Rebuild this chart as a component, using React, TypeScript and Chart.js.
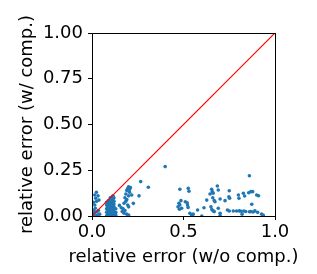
import React, { useEffect, useRef } from "react";
import { Chart, registerables } from "chart.js";

Chart.register(...registerables);

const xTitle = "relative error (w/o comp.)";
const yTitle = "relative error (w/ comp.)";
const xTickValues = [0, 0.5, 1.0];
const yTickValues = [0, 0.25, 0.5, 0.75, 1.0];
const diagX = [0, 1];
const diagY = [0, 1];

// scatter points: relative error without compensation (x) vs with compensation (y)
const errNoComp = [
  0.005, 0.01, 0.015, 0.005, 0.024, 0.015, 0.033, 0.02, 0.038, 0.015, 0.018, 0.027, 0.042, 0.03, 0.02, 0.01, 0.035, 0.008, 0.025,
  0.08, 0.08, 0.08, 0.08, 0.08, 0.09, 0.09, 0.09, 0.09, 0.09, 0.09,
  0.1, 0.1, 0.1, 0.1, 0.1, 0.1, 0.1, 0.1,
  0.11, 0.11, 0.11, 0.11, 0.11, 0.11, 0.11, 0.11,
  0.12, 0.12, 0.12, 0.12, 0.12, 0.12, 0.12,
  0.13, 0.13, 0.13, 0.085, 0.105, 0.115, 0.125,
  0.085, 0.085, 0.085, 0.085, 0.095, 0.095, 0.095, 0.095, 0.095,
  0.105, 0.105, 0.105, 0.105, 0.105, 0.105, 0.105,
  0.115, 0.115, 0.115, 0.115, 0.115, 0.115, 0.115,
  0.15, 0.17, 0.175, 0.18, 0.185, 0.19, 0.2, 0.195, 0.205, 0.2, 0.19, 0.185, 0.195, 0.2, 0.18, 0.175, 0.19, 0.2, 0.21, 0.205, 0.165, 0.16,
  0.217, 0.226, 0.257, 0.266, 0.308, 0.4,
  0.48, 0.486, 0.475, 0.48, 0.47, 0.49, 0.478, 0.526, 0.53, 0.51, 0.52, 0.522, 0.525, 0.535, 0.545, 0.553, 0.577, 0.612, 0.627,
  0.645, 0.654, 0.657, 0.662, 0.66, 0.668, 0.672, 0.65, 0.655, 0.662, 0.668, 0.685, 0.69, 0.7, 0.69, 0.7, 0.727, 0.74,
  0.75, 0.748, 0.752, 0.75, 0.772, 0.79, 0.8, 0.803, 0.805, 0.815, 0.82, 0.827, 0.834, 0.83, 0.84, 0.856, 0.868, 0.873,
  0.878, 0.86, 0.868, 0.88, 0.86, 0.9, 0.91, 0.89, 0.905, 0.927, 0.936, 0.6, 0.7,
];
const errWithComp = [
  0.005, 0.01, 0.02, 0.015, 0.13, 0.115, 0.11, 0.097, 0.087, 0.06, 0.042, 0.023, 0.01, 0.005, 0.0, 0.03, 0.03, 0.075, 0.08,
  0.0, 0.02, 0.04, 0.06, 0.075, 0.0, 0.015, 0.03, 0.05, 0.07, 0.085,
  0.0, 0.01, 0.025, 0.04, 0.055, 0.07, 0.09, 0.1,
  0.0, 0.015, 0.03, 0.045, 0.06, 0.08, 0.095, 0.105,
  0.0, 0.02, 0.035, 0.05, 0.065, 0.08, 0.1,
  0.005, 0.02, 0.04, 0.045, 0.035, 0.07, 0.015,
  0.01, 0.03, 0.05, 0.07, 0.005, 0.02, 0.04, 0.06, 0.08,
  0.005, 0.02, 0.035, 0.05, 0.065, 0.085, 0.1,
  0.01, 0.025, 0.04, 0.055, 0.07, 0.09, 0.11,
  0.058, 0.04, 0.07, 0.1, 0.12, 0.14, 0.16, 0.15, 0.13, 0.11, 0.09, 0.08, 0.06, 0.05, 0.03, 0.015, 0.01, 0.005, 0.155, 0.145, 0.025, 0.045,
  0.115, 0.069, 0.11, 0.188, 0.157, 0.27,
  0.146, 0.084, 0.07, 0.06, 0.05, 0.042, 0.037, 0.151, 0.135, 0.078, 0.072, 0.06, 0.047, 0.015, 0.005, 0.01, 0.033, 0.045, 0.087,
  0.12, 0.146, 0.133, 0.125, 0.1, 0.085, 0.078, 0.05, 0.035, 0.028, 0.024, 0.164, 0.142, 0.093, 0.042, 0.015, 0.084, 0.033,
  0.138, 0.105, 0.097, 0.027, 0.027, 0.027, 0.115, 0.097, 0.028, 0.026, 0.01, 0.124, 0.109, 0.027, 0.025, 0.127, 0.133, 0.064,
  0.133, 0.023, 0.024, 0.022, 0.22, 0.115, 0.111, 0.028, 0.02, 0.01, 0.004, 0.0, 0.003,
];

const FONT = "'DejaVu Sans', sans-serif";
const RED = "rgb(255, 0, 0)";

const framePlugin = {
  id: "frame",
  afterDraw(chart: any) {
    const { ctx, chartArea } = chart;
    ctx.save();
    ctx.strokeStyle = "#000";
    ctx.lineWidth = 1;
    ctx.strokeRect(
      Math.round(chartArea.left) + 0.5,
      Math.round(chartArea.top) + 0.5,
      Math.round(chartArea.right - chartArea.left),
      Math.round(chartArea.bottom - chartArea.top)
    );
    ctx.fillStyle = "#000";
    ctx.font = "18px " + FONT;
    ctx.textAlign = "center";
    ctx.textBaseline = "middle";
    const cx = (chartArea.left + chartArea.right) / 2;
    const cy = (chartArea.top + chartArea.bottom) / 2;
    ctx.fillText(xTitle, cx, chartArea.bottom + 41);
    ctx.translate(chartArea.left - 65, cy);
    ctx.rotate(-Math.PI / 2);
    ctx.fillText(yTitle, 0, 0);
    ctx.restore();
  },
};

export default function App() {
  const ref = useRef<HTMLCanvasElement>(null);
  useEffect(() => {
    if (!ref.current) return;
    const pts = errNoComp.map((x, i) => ({ x, y: errWithComp[i] }));
    const diag = diagX.map((x, i) => ({ x, y: diagY[i] }));
    const chart = new Chart(ref.current, {
      type: "scatter",
      data: {
        datasets: [
          {
            data: pts,
            backgroundColor: "#1f77b4",
            borderColor: "#1f77b4",
            borderWidth: 0,
            pointRadius: 1.8,
            clip: 0,
            order: 2,
          } as any,
          {
            type: "line",
            data: diag,
            showLine: true,
            borderColor: RED,
            backgroundColor: RED,
            borderWidth: 1.2,
            pointRadius: 0,
            tension: 0,
            fill: false,
            clip: 0,
            order: 1,
          } as any,
        ],
      },
      options: {
        animation: false,
        responsive: false,
        events: [],
        layout: { padding: { top: 33, right: 42, left: 0, bottom: 0 } },
        plugins: { legend: { display: false }, tooltip: { enabled: false } },
        scales: {
          x: {
            type: "linear",
            min: 0,
            max: 1,
            afterFit: (s: any) => {
              s.height = 58;
            },
            afterBuildTicks: (s: any) => {
              s.ticks = xTickValues.map((v) => ({ value: v }));
            },
            ticks: {
              color: "#000",
              font: { family: FONT, size: 18 },
              padding: 2,
              maxRotation: 0,
              callback: (v: any) => Number(v).toFixed(1),
            },
            grid: { display: true, drawOnChartArea: false, drawTicks: true, tickLength: 4, color: "#000" },
            border: { display: true, color: "#000", width: 1 },
          },
          y: {
            type: "linear",
            min: 0,
            max: 1,
            afterFit: (s: any) => {
              s.width = 92;
            },
            afterBuildTicks: (s: any) => {
              s.ticks = yTickValues.map((v) => ({ value: v }));
            },
            ticks: {
              color: "#000",
              font: { family: FONT, size: 18 },
              padding: 5,
              callback: (v: any) => Number(v).toFixed(2),
            },
            grid: { display: true, drawOnChartArea: false, drawTicks: true, tickLength: 4, color: "#000" },
            border: { display: true, color: "#000", width: 1 },
          },
        },
      },
      plugins: [framePlugin],
    });
    return () => chart.destroy();
  }, []);
  return (
    <div style={{ position: "absolute", left: 0, top: 0, width: 317, height: 274, background: "#fff" }}>
      <canvas ref={ref} width={317} height={274} />
    </div>
  );
}
